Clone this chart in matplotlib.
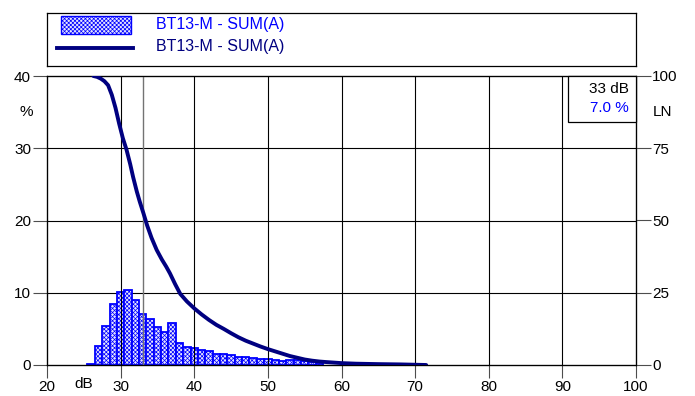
import numpy as np
import matplotlib
matplotlib.use("Agg")
from matplotlib import pyplot as plt
from matplotlib.patches import Rectangle

plt.rcParams['font.family'] = ['Liberation Sans', 'DejaVu Sans']
plt.rcParams['font.size'] = 11
plt.rcParams['hatch.color'] = '#0000ff'
plt.rcParams['hatch.linewidth'] = 0.5

# level distribution, 1 dB classes
levels = [26, 27, 28, 29, 30, 31, 32, 33, 34, 35, 36, 37, 38, 39, 40, 41,
          42, 43, 44, 45, 46, 47, 48, 49, 50, 51, 52, 53, 54, 55, 56, 57]
share = [0.2, 2.6, 5.4, 8.4, 10.1, 10.4, 9.0, 7.0, 6.4, 5.3, 4.5, 5.8, 3.1,
         2.5, 2.3, 2.1, 2.0, 1.5, 1.5, 1.4, 1.05, 1.05, 0.9, 0.8, 0.8, 0.7,
         0.6, 0.65, 0.7, 0.55, 0.35, 0.3]

# cumulative exceedance LN
ln_db = [26.3, 26.8, 27.3, 27.8, 28.3, 28.8, 29.3, 29.8, 30.3, 30.8, 31.3,
         31.7, 32.2, 32.6, 33.1, 33.6, 34.2, 34.9, 35.6, 36.2, 36.7, 37.4,
         38.1, 39, 40, 41, 42, 43, 44, 45, 46, 47, 48, 49, 50, 51, 52, 53,
         54, 55, 56, 57, 58, 60, 62, 65, 68, 71.5]
ln_val = [100, 99.7, 99.1, 98.2, 96.8, 93.5, 89.0, 83.5, 78.5, 74.5, 69.5,
          65.0, 60.0, 56.5, 52.5, 48.3, 44.0, 39.8, 36.5, 34.0, 31.7, 28.0,
          24.6, 22.0, 19.6, 17.5, 15.6, 13.9, 12.5, 11.0, 9.6, 8.4, 7.4, 6.4,
          5.5, 4.7, 3.9, 3.1, 2.5, 1.9, 1.5, 1.2, 1.0, 0.65, 0.45, 0.3, 0.2,
          0.0]

series = "BT13-M - SUM(A)"
cursor_db = 33
cursor_pct = 7.0

blue = '#0000ff'
navy = '#000080'

fig = plt.figure(figsize=(6.95, 3.96), dpi=100)
ax = fig.add_axes([47 / 695, 31 / 396, 589 / 695, 289 / 396])

ax.bar(levels, share, width=1.0, facecolor='#e4e4ff', edgecolor=blue,
       linewidth=1.3, hatch='xxxxxxxx', zorder=2)

ax.set_xlim(20, 100)
ax.set_ylim(0, 40)
ax.set_xticks(range(20, 101, 10))
ax.set_yticks(range(0, 41, 10))
for x in range(30, 100, 10):
    ax.axvline(x, color='black', lw=0.8, zorder=3)
for y in range(10, 40, 10):
    ax.axhline(y, color='black', lw=0.8, zorder=1)
ax.axvline(cursor_db, color='0.45', lw=1.0, zorder=3)

ax.tick_params(axis='y', length=10, width=0.8, pad=1.5, color='0.3')
ax.tick_params(axis='x', length=9, width=0.8, pad=2, color='0.3')
for s in ax.spines.values():
    s.set_linewidth(0.9)

ax2 = ax.twinx()
ax2.plot(ln_db, ln_val, color=navy, lw=2.8, solid_capstyle='round',
         solid_joinstyle='round', zorder=4)
ax2.set_ylim(0, 100)
ax2.set_yticks(range(0, 101, 25))
ax2.tick_params(axis='y', length=11, width=0.8, pad=0.5, color='0.3')

ax.text(25, -1.6, "dB", ha='center', va='top', transform=ax.transData)
ax.text(-0.035, 35, "%", ha='center', va='center',
        transform=ax.get_yaxis_transform())
ax.text(1.045, 87.5, "LN", ha='center', va='center',
        transform=ax2.get_yaxis_transform())

# cursor readout in the upper right corner
box = Rectangle((568 / 695, (396 - 122) / 396), 68 / 695, 46 / 396,
                transform=fig.transFigure, facecolor='white',
                edgecolor='black', lw=0.9, zorder=5)
fig.patches.append(box)
fig.text(629 / 695, (396 - 89) / 396, f"{cursor_db} dB", ha='right',
         va='center', color='black', zorder=6)
fig.text(629 / 695, (396 - 108) / 396, f"{cursor_pct:.1f} %", ha='right',
         va='center', color=blue, zorder=6)

# legend panel
lg = fig.add_axes([47 / 695, 330 / 396, 589 / 695, 53 / 396])
lg.set_xlim(0, 589)
lg.set_ylim(53, 0)
lg.set_xticks([])
lg.set_yticks([])
for s in lg.spines.values():
    s.set_linewidth(0.9)
lg.add_patch(Rectangle((14, 3), 70, 18, facecolor='#e4e4ff', edgecolor=blue,
                       lw=1.0, hatch='xxxxxxxx'))
lg.plot([10, 86], [35, 35], color=navy, lw=2.8)
lg.text(109, 12, series, color=blue, va='center', ha='left', fontsize=11.5)
lg.text(109, 34, series, color=navy, va='center', ha='left', fontsize=11.5)

fig.savefig("out.png", dpi=100)
